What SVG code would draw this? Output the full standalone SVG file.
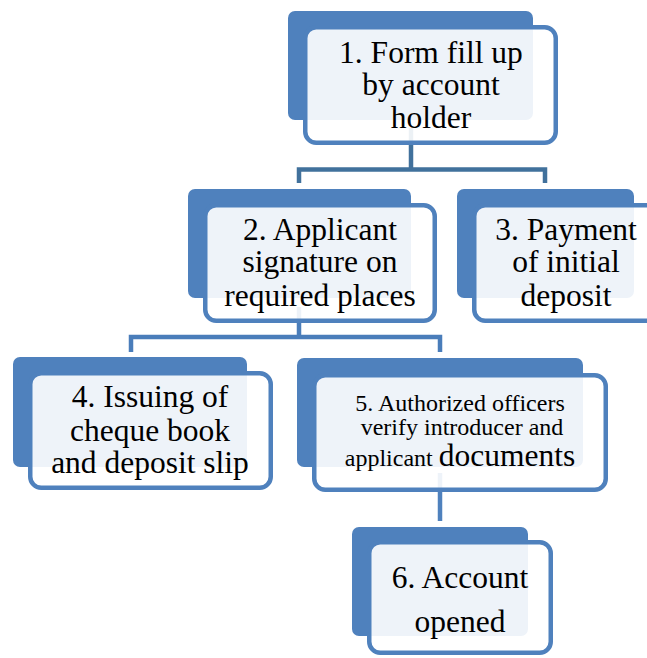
<svg xmlns="http://www.w3.org/2000/svg" width="647" height="658" viewBox="0 0 647 658">
<style>
.bg{fill:#fff}
.back{fill:#4F81BD}
.front{fill:#fff;fill-opacity:0.9;stroke:#4F81BD;stroke-width:4.5}
.conn{fill:none;stroke-width:4.5;stroke-linejoin:miter}
</style>
<rect class="bg" x="0" y="0" width="647" height="658"/>
<g id="connectors">
  <path class="conn" stroke="#41719C" d="M411,128 V169.5 H299 V183 M411,169.5 H545 V183"/>
  <path class="conn" stroke="#4A7DBA" d="M299,307 V337 H131 V352 M299,337 H440 V352"/>
  <path class="conn" stroke="#4F81BD" d="M440,473 V521"/>
</g>
<g font-family="Liberation Serif" font-size="31.5" fill="#000" text-anchor="middle">
<g id="node1">
  <rect class="back" x="288" y="11" width="245" height="109" rx="7"/>
  <rect class="front" x="305.25" y="27.25" width="250.5" height="115.5" rx="11"/>
  <text x="431" y="63">1. Form fill up</text>
  <text x="431" y="95">by account</text>
  <text x="431" y="128">holder</text>
</g>
<g id="node2">
  <rect class="back" x="188" y="189" width="223" height="109" rx="7"/>
  <rect class="front" x="205.25" y="205.25" width="229.5" height="115.5" rx="11"/>
  <text x="320" y="240">2. Applicant</text>
  <text x="320" y="272">signature on</text>
  <text x="320" y="306">required places</text>
</g>
<g id="node3">
  <rect class="back" x="457" y="189" width="177" height="109" rx="7"/>
  <rect class="front" x="474.25" y="205.25" width="182.5" height="115.5" rx="11"/>
  <text x="566" y="240">3. Payment</text>
  <text x="566" y="272">of initial</text>
  <text x="566" y="306">deposit</text>
</g>
<g id="node4">
  <rect class="back" x="13" y="357" width="234" height="110" rx="7"/>
  <rect class="front" x="30.25" y="373.25" width="240.5" height="114.5" rx="11"/>
  <text x="150" y="407">4. Issuing of</text>
  <text x="150" y="441">cheque book</text>
  <text x="150" y="473">and deposit slip</text>
</g>
<g id="node5">
  <rect class="back" x="297" y="358" width="286" height="109" rx="7"/>
  <rect class="front" x="314.25" y="375.25" width="291.5" height="114.5" rx="11"/>
  <text x="460" y="411" font-size="24">5. Authorized officers</text>
  <text x="462" y="435" font-size="24">verify introducer and</text>
  <text x="460" y="466"><tspan font-size="24">applicant </tspan>documents</text>
</g>
<g id="node6">
  <rect class="back" x="352" y="527" width="176" height="109" rx="7"/>
  <rect class="front" x="369.25" y="542.25" width="181.5" height="110.5" rx="11"/>
  <text x="460" y="588">6. Account</text>
  <text x="460" y="632">opened</text>
</g>
</g>
</svg>
